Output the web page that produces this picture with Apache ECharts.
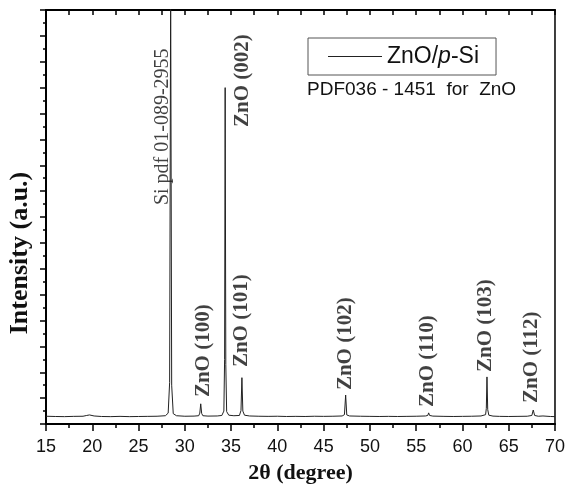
<!DOCTYPE html>
<html>
<head>
<meta charset="utf-8">
<script src="https://cdn.jsdelivr.net/npm/echarts@6/dist/echarts.min.js"></script>
<style>html,body{margin:0;padding:0;background:#fff}#c{width:568px;height:491px}</style>
</head>
<body>
<div id="c"></div>
<script>
// XRD scan: [2theta (degree), intensity (a.u.)]
const scan = [
  [15,300],[16,290],[17,285],[18,295],[19,300],[19.4,330],[19.7,350],[20.2,310],[21,290],[22,285],
  [23,295],[24,285],[25,290],[26,295],[27,300],[27.9,320],[28.2,420],[28.36,1600],[28.47,16800],[28.58,1500],
  [28.75,400],[29.1,320],[30,300],[31,305],[31.5,320],[31.62,420],[31.72,780],[31.82,410],[31.95,320],[32.5,305],
  [33.5,310],[34.0,330],[34.22,500],[34.3,2500],[34.36,13000],[34.43,2300],[34.52,480],[34.75,340],[35.3,320],[35.9,330],
  [36.07,520],[36.17,1790],[36.27,500],[36.45,340],[37,310],[38,300],[39,295],[40,300],[41,290],[42,295],
  [43,290],[44,300],[45,295],[46,300],[47,310],[47.25,360],[47.38,1120],[47.5,350],[47.8,310],[49,300],
  [50,295],[51,290],[52,295],[53,290],[54,295],[55,300],[56,310],[56.25,330],[56.35,430],[56.45,330],
  [56.8,305],[58,295],[59,290],[60,295],[61,300],[62,310],[62.5,360],[62.58,600],[62.65,1820],[62.73,560],
  [62.85,340],[63.3,305],[64,295],[65,290],[66,295],[67,300],[67.5,330],[67.65,540],[67.8,330],[68.2,300],
  [68.7,310],[68.8,370],[68.9,310],[69.5,290],[70,285]
];
const seriesName = 'ZnO/p-Si';
const xTicks = [15,20,25,30,35,40,45,50,55,60,65,70];
// peak annotations (anchor = bottom of the rotated text, in data units)
const labelText = ['Si pdf 01-089-2955','ZnO (002)','ZnO (100)','ZnO (101)','ZnO (102)','ZnO (110)','ZnO (103)','ZnO (112)'];
const labelX = [27.65, 36.2, 32.05, 36.18, 47.32, 56.2, 62.55, 67.52];
const labelY = [8460, 11480, 1040, 2200, 1310, 660, 2010, 810];
const refText = 'PDF036 - 1451  for  ZnO';
const yTitle = 'Intensity (a.u.)';
const xTitle = '2\u03b8 (degree)';

const chart = echarts.init(document.getElementById('c'), null, {renderer:'canvas'});
const labelData = labelText.map((t, i) => ({
  value: [labelX[i], labelY[i]],
  name: t,
  label: i === 0 ? {fontWeight: 'normal', fontSize: 20} : {fontWeight: 'bold', fontSize: 21}
}));
chart.setOption({
  animation: false,
  backgroundColor: '#fff',
  grid: {left: 46, right: 13, top: 10, bottom: 67, show: true, borderColor: '#000', borderWidth: 1.5, backgroundColor: 'transparent'},
  legend: {
    data: [seriesName],
    left: 308, top: 38,
    padding: [6, 17, 6, 20],
    icon: 'rect', itemWidth: 54, itemHeight: 1.2,
    itemStyle: {color: '#222'},
    borderColor: '#555', borderWidth: 1,
    formatter: () => 'ZnO/{i|p}-Si',
    textStyle: {fontFamily: 'Liberation Sans', fontSize: 23, color: '#111', lineHeight: 25,
      rich: {i: {fontFamily: 'Liberation Sans', fontSize: 23, fontStyle: 'italic', color: '#111', lineHeight: 25}}}
  },
  xAxis: [{
    type: 'value', min: xTicks[0], max: xTicks[xTicks.length-1], interval: 5, position: 'bottom',
    axisLine: {lineStyle: {color: '#000', width: 2}},
    axisTick: {inside: false, length: 7, lineStyle: {color: '#000', width: 1.5}},
    minorTick: {show: true, splitNumber: 2, length: 4, lineStyle: {color: '#000', width: 1.5}},
    splitLine: {show: false},
    axisLabel: {fontFamily: 'Liberation Sans', fontSize: 18, color: '#111', margin: 14},
    name: xTitle, nameLocation: 'middle', nameGap: 38,
    nameTextStyle: {fontFamily: 'Liberation Serif', fontWeight: 'bold', fontSize: 22, color: '#111'}
  }, {
    type: 'value', min: xTicks[0], max: xTicks[xTicks.length-1], interval: 2.5, position: 'top',
    axisLine: {lineStyle: {color: '#000', width: 2}},
    axisTick: {inside: true, length: 5, lineStyle: {color: '#000', width: 1.5}},
    splitLine: {show: false}, axisLabel: {show: false}
  }],
  yAxis: [{
    type: 'value', min: 0, max: 16000, interval: 1000,
    axisLine: {show: true, lineStyle: {color: '#000', width: 2}},
    axisTick: {show: true, inside: false, length: 6, lineStyle: {color: '#000', width: 1.5}},
    minorTick: {show: true, splitNumber: 2, length: 3, lineStyle: {color: '#000', width: 1.5}},
    splitLine: {show: false}, axisLabel: {show: false}
  }],
  graphic: [
    {type: 'text', left: 307, top: 80, style: {text: refText, font: '19px "Liberation Sans"', fill: '#111'}},
    {type: 'text', x: 20, y: 253, rotation: Math.PI/2,
     style: {text: yTitle, x: 0, y: 0, align: 'center', verticalAlign: 'middle', font: 'bold 26px "Liberation Serif"', fill: '#111'}}
  ],
  series: [{
    name: seriesName, type: 'line', data: scan, symbol: 'none', clip: true,
    lineStyle: {color: '#222', width: 1}, itemStyle: {color: '#222'}
  }, {
    type: 'scatter', data: labelData, symbolSize: 0, silent: true, clip: false,
    label: {show: true, formatter: p => p.name, position: [0, 0], rotate: 90, align: 'left', verticalAlign: 'middle',
      fontFamily: 'Liberation Serif', color: '#111'}
  }]
});
</script>
</body>
</html>
